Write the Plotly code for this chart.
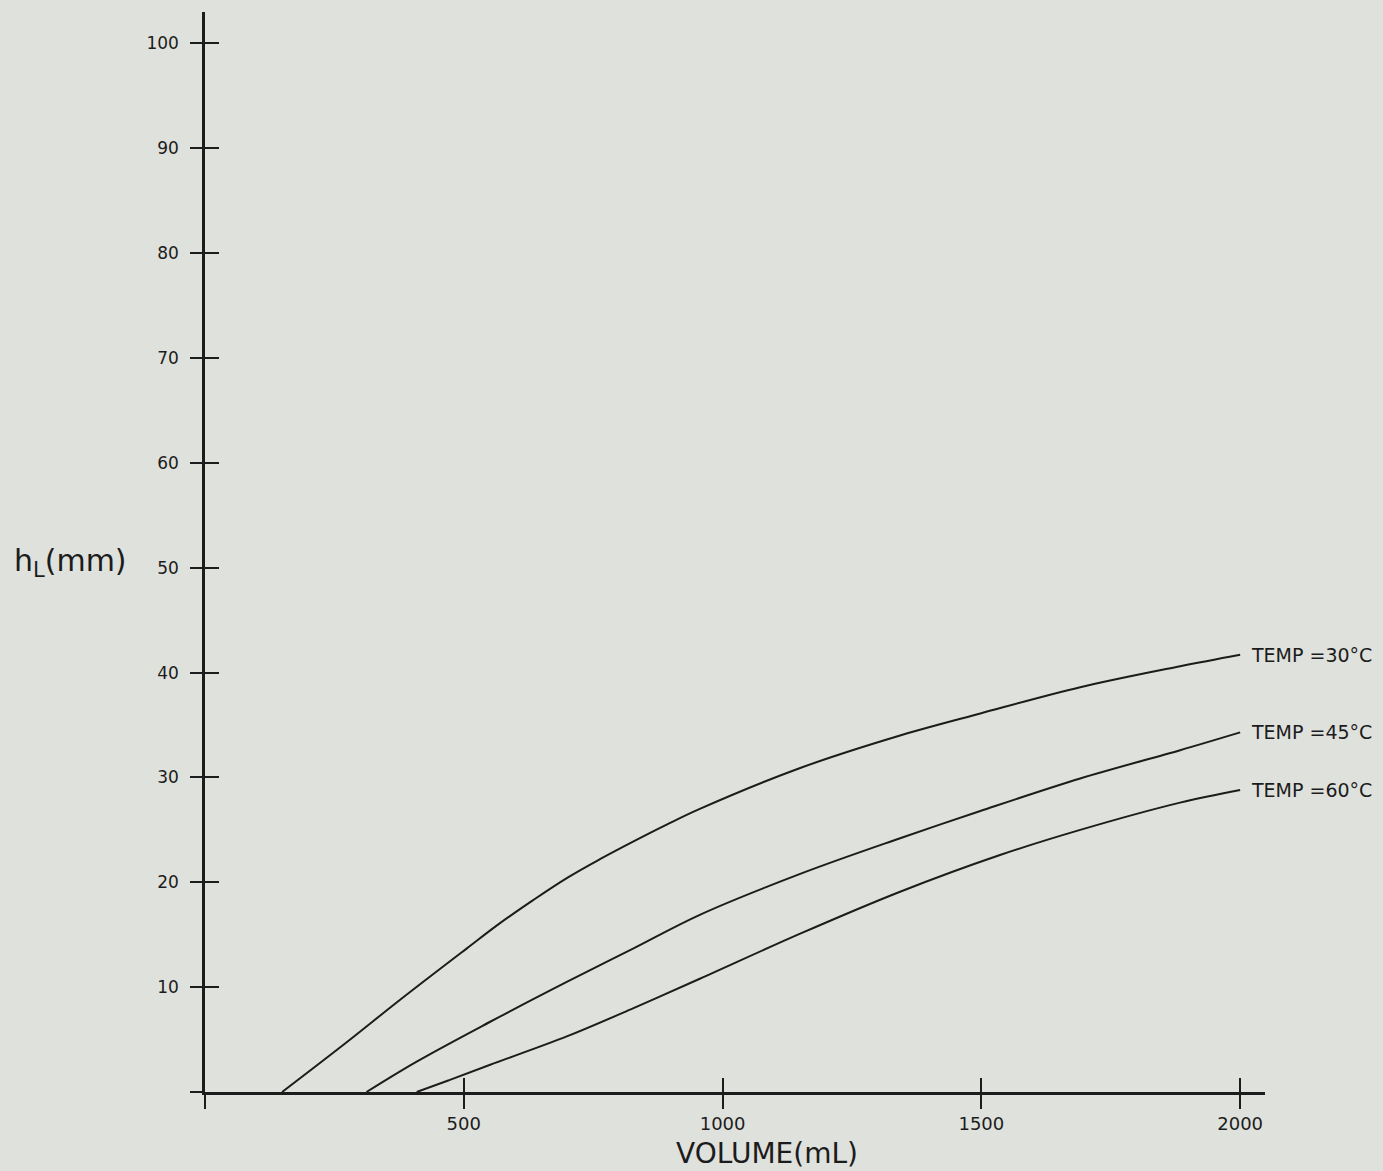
import plotly.graph_objects as go

# ---- data ----
vol_30 = [149, 270, 377, 506, 570, 634, 699, 763, 828, 892, 956, 1150, 1343, 1498, 1691, 1884, 2000]
h_30   = [0.0, 4.6, 8.8, 13.7, 16.1, 18.3, 20.4, 22.2, 23.9, 25.5, 27.0, 30.9, 34.0, 36.1, 38.6, 40.6, 41.7]

vol_45 = [312, 409, 551, 699, 828, 956, 1150, 1343, 1498, 1691, 1884, 2000]
h_45   = [0.0, 2.9, 6.7, 10.5, 13.7, 16.9, 20.8, 24.2, 26.8, 29.9, 32.6, 34.3]

vol_60 = [409, 470, 551, 699, 828, 956, 1150, 1343, 1536, 1691, 1884, 2000]
h_60   = [0.0, 1.1, 2.6, 5.3, 8.0, 10.8, 15.1, 19.1, 22.6, 25.0, 27.6, 28.8]

series = [
    ("TEMP =30°C", vol_30, h_30),
    ("TEMP =45°C", vol_45, h_45),
    ("TEMP =60°C", vol_60, h_60),
]

x_tickvals = [500, 1000, 1500, 2000]
x_ticktext = ["500", "1000", "1500", "2000"]
y_tickvals = [10, 20, 30, 40, 50, 60, 70, 80, 90, 100]
y_ticktext = [str(v) for v in y_tickvals]
origin_tick = [0]

x_range = [0, 2048]
y_range = [0, 103]

INK = "#1c1c1c"
PAPER = "#dfe1dc"
FONT = "DejaVu Sans"

fig = go.Figure()
for name, xs, ys in series:
    fig.add_trace(go.Scatter(
        x=xs, y=ys, mode="lines", name=name,
        line=dict(color=INK, width=2, shape="spline", smoothing=1.0),
        showlegend=False, hoverinfo="skip",
    ))
    fig.add_annotation(
        x=xs[-1], y=ys[-1], xref="x", yref="y", text=name, showarrow=False,
        xanchor="left", yanchor="middle", xshift=9,
        font=dict(family=FONT, size=19, color=INK),
    )

# dummy trace so the overlay axes (inside tick halves) are drawn
fig.add_trace(go.Scatter(x=[None], y=[None], xaxis="x2", yaxis="y2",
                         showlegend=False, hoverinfo="skip"))

fig.update_layout(
    width=1383, height=1171,
    margin=dict(l=205, r=118, t=12, b=79),
    paper_bgcolor=PAPER, plot_bgcolor=PAPER,
    font=dict(family=FONT, color=INK),
    xaxis=dict(
        range=x_range, tickmode="array", tickvals=x_tickvals, ticktext=x_ticktext,
        ticks="outside", ticklen=14, tickwidth=2, tickcolor=INK,
        minor=dict(tickmode="array", tickvals=origin_tick, ticks="outside",
                   ticklen=14, tickwidth=2, tickcolor=INK, showgrid=False),
        showline=True, linecolor=INK, linewidth=2.5,
        showgrid=False, zeroline=False,
        tickfont=dict(family=FONT, size=18, color=INK),
    ),
    yaxis=dict(
        range=y_range, tickmode="array", tickvals=y_tickvals, ticktext=y_ticktext,
        ticks="outside", ticklen=12, tickwidth=2, tickcolor=INK,
        minor=dict(tickmode="array", tickvals=origin_tick, ticks="outside",
                   ticklen=12, tickwidth=2, tickcolor=INK, showgrid=False),
        showline=True, linecolor=INK, linewidth=2.5,
        showgrid=False, zeroline=False, ticklabelstandoff=8,
        tickfont=dict(family=FONT, size=17, color=INK),
    ),
    xaxis2=dict(
        overlaying="x", anchor="y2", side="bottom", range=x_range,
        tickmode="array", tickvals=x_tickvals,
        ticks="inside", ticklen=14, tickwidth=2, tickcolor=INK,
        showticklabels=False, showline=False, showgrid=False, zeroline=False,
    ),
    yaxis2=dict(
        overlaying="y", anchor="x2", side="left", range=y_range,
        tickmode="array", tickvals=y_tickvals,
        ticks="inside", ticklen=14, tickwidth=2, tickcolor=INK,
        showticklabels=False, showline=False, showgrid=False, zeroline=False,
    ),
)

fig.add_annotation(
    x=(767 - 205) / 1060, y=(1092 - 1153) / 1080, xref="paper", yref="paper",
    text="VOLUME(mL)", showarrow=False, xanchor="center", yanchor="middle",
    font=dict(family=FONT, size=28, color=INK),
)
fig.add_annotation(
    x=(12 - 205) / 1060, y=(1092 - 562) / 1080, xref="paper", yref="paper",
    text="h<sub>L</sub>(mm)", showarrow=False, xanchor="left", yanchor="middle",
    font=dict(family=FONT, size=30, color=INK),
)

fig.write_html(
    "out.html",
    config={"displayModeBar": False},
    post_script="document.body.style.margin='0';document.body.style.overflow='hidden';",
)
